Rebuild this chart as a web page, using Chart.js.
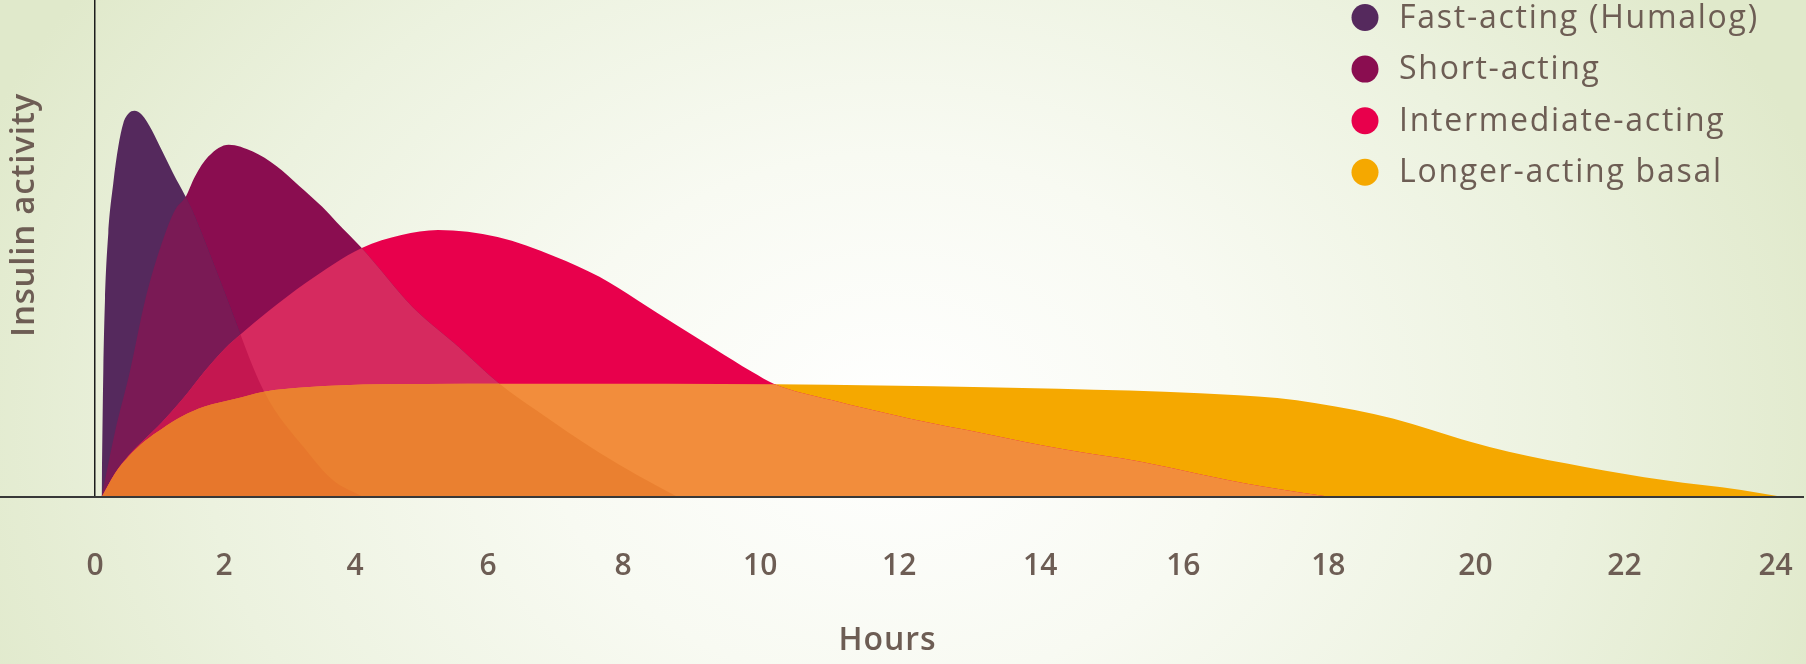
<!DOCTYPE html>
<html>
<head>
<meta charset="utf-8">
<script src="https://cdn.jsdelivr.net/npm/chart.js@4.4.1/dist/chart.umd.min.js"></script>
<style>
  html, body { margin: 0; padding: 0; width: 1806px; height: 664px; overflow: hidden; }
  body { background: radial-gradient(ellipse 980px 760px at 890px 420px, #ffffff 0%, #f8faf2 35%, #ecf2df 70%, #e0e9cb 100%); }
  #wrap { position: relative; width: 1806px; height: 664px; }
  canvas { display: block; }
</style>
</head>
<body>
<div id="wrap"><canvas id="chart" width="1806" height="664"></canvas></div>
<script>
// ---------------- data ----------------
const seriesNames = ['Fast-acting (Humalog)', 'Short-acting', 'Intermediate-acting', 'Longer-acting basal'];
const seriesColors = ['#55295d', '#8a0d50', '#e8004c', '#f5a800'];

const fastHours  = [0.1, 0.127, 0.153, 0.205, 0.283, 0.361, 0.439, 0.517, 0.611, 0.727, 0.883, 1.035, 1.214, 1.406, 1.55, 1.755, 2.012, 2.61, 3.25, 3.66, 4.12];
const fastValues = [0, 2.54, 3.96, 5.31, 6.32, 7.05, 7.52, 7.71, 7.77, 7.69, 7.38, 6.98, 6.51, 6.04, 5.64, 4.97, 4.10, 2.13, 0.95, 0.34, 0];

const shortHours  = [0.1, 0.306, 0.544, 0.778, 1.035, 1.24, 1.406, 1.55, 1.755, 2.07, 2.44, 2.80, 3.15, 3.50, 3.72, 4.1, 4.87, 5.56, 6.16, 6.71, 7.65, 8.21, 8.8];
const shortValues = [0, 1.29, 2.54, 3.96, 5.10, 5.77, 6.04, 6.45, 6.85, 7.09, 6.95, 6.66, 6.26, 5.84, 5.53, 5.01, 3.82, 3.02, 2.29, 1.75, 0.89, 0.44, 0];

const intHours  = [0.1, 0.309, 0.517, 0.778, 1.035, 1.345, 1.705, 2.012, 2.258, 2.672, 3.252, 4.1, 4.7, 5.25, 6.14, 6.99, 7.65, 8.21, 8.78, 9.33, 9.88, 10.21, 11.03, 12.14, 13.24, 14.33, 15.41, 16.23, 17.1, 18.04];
const intValues = [0, 0.48, 0.83, 1.17, 1.5, 1.95, 2.54, 2.99, 3.28, 3.73, 4.31, 5.01, 5.27, 5.37, 5.23, 4.84, 4.43, 3.96, 3.46, 2.99, 2.52, 2.27, 1.95, 1.58, 1.27, 0.96, 0.71, 0.46, 0.21, 0];

const basalHours  = [0.1, 0.309, 0.517, 0.778, 1.036, 1.345, 1.70, 2.16, 2.61, 3.25, 4.41, 7.0, 10.21, 13.24, 14.26, 16.23, 17.3, 18.36, 18.88, 19.41, 19.93, 20.45, 21.49, 22.52, 23.55, 24.1];
const basalValues = [0, 0.48, 0.81, 1.13, 1.37, 1.62, 1.82, 1.97, 2.12, 2.21, 2.27, 2.28, 2.27, 2.21, 2.18, 2.09, 1.99, 1.75, 1.58, 1.35, 1.11, 0.91, 0.60, 0.34, 0.14, 0];

const hourTicks = [0, 2, 4, 6, 8, 10, 12, 14, 16, 18, 20, 22, 24];

// colours of regions where several curves overlap (indices into the series above)
const overlapSets   = [[0, 1], [1, 2], [2, 3], [0, 1, 2], [1, 2, 3], [0, 1, 2, 3]];
const overlapColors = ['#7a1a55', '#d62a5f', '#f28d3c', '#c41750', '#ea8030', '#e7772c'];

const yTitle = 'Insulin activity';
const xTitle = 'Hours';

// ---------------- styling ----------------
const textColor = '#6d5d54';
const FONT = '"Open Sans", "Noto Sans", sans-serif';
const HOUR_WARP = 0.00392; // the printed hour axis gets gradually wider to the right

// A linear scale whose spacing widens slightly with time, like the printed axis
class WarpedScale extends Chart.LinearScale {
  static id = 'warped';
  _w(v) { return v + HOUR_WARP * v * v; }
  _uw(u) { return (-1 + Math.sqrt(1 + 4 * HOUR_WARP * u)) / (2 * HOUR_WARP); }
  getPixelForValue(value) {
    if (value === null || value === undefined || isNaN(value)) return NaN;
    const a = this._w(this.min), b = this._w(this.max);
    return this.getPixelForDecimal((this._w(value) - a) / (b - a));
  }
  getValueForPixel(pixel) {
    const a = this._w(this.min), b = this._w(this.max);
    return this._uw(a + this.getDecimalForPixel(pixel) * (b - a));
  }
}
Chart.register(WarpedScale);

const hoursList = [fastHours, shortHours, intHours, basalHours];
const valuesList = [fastValues, shortValues, intValues, basalValues];

const datasets = seriesNames.map((name, i) => ({
  label: name,
  data: hoursList[i].map((h, k) => ({ x: h, y: valuesList[i][k] })),
  backgroundColor: seriesColors[i],
  borderWidth: 0,
  pointRadius: 0,
  fill: 'origin',
  cubicInterpolationMode: 'monotone'
}));

function fitSpacing(ctx, text, target) {
  ctx.letterSpacing = '0px';
  const w = ctx.measureText(text).width;
  const s = Math.max(0, Math.min(3, (target - w) / text.length));
  ctx.letterSpacing = s.toFixed(2) + 'px';
}

const overlapPlugin = {
  id: 'overlapShading',
  afterDatasetsDraw(chart) {
    const ctx = chart.ctx;
    const area = chart.chartArea;
    const y0 = chart.scales.y.getPixelForValue(0);
    const paths = chart.data.datasets.map((d, i) => {
      const meta = chart.getDatasetMeta(i);
      const line = meta.dataset;
      const pts = meta.data;
      if (line.updateControlPoints) line.updateControlPoints(area, 'x');
      const p = new Path2D();
      line.path(p);
      p.lineTo(pts[pts.length - 1].x, y0);
      p.lineTo(pts[0].x, y0);
      p.closePath();
      return p;
    });
    overlapSets.forEach((set, k) => {
      ctx.save();
      ctx.beginPath();
      ctx.rect(area.left, area.top, area.width, area.height);
      ctx.clip();
      for (let j = 0; j < set.length - 1; j++) ctx.clip(paths[set[j]]);
      ctx.fillStyle = overlapColors[k];
      ctx.fill(paths[set[set.length - 1]]);
      ctx.restore();
    });
    // baseline across the whole picture
    ctx.save();
    ctx.strokeStyle = '#383838';
    ctx.lineWidth = 2;
    ctx.beginPath();
    ctx.moveTo(0, y0);
    ctx.lineTo(chart.width - 2, y0);
    ctx.stroke();
    ctx.restore();
  },
  afterDraw(chart) {
    const ctx = chart.ctx;
    // legend
    ctx.save();
    ctx.textBaseline = 'middle';
    ctx.textAlign = 'left';
    ctx.font = '400 32px ' + FONT;
    fitSpacing(ctx, chart.data.datasets[0].label, 360);
    chart.data.datasets.forEach((ds, i) => {
      const cy = 17.5 + i * 51.6;
      ctx.fillStyle = ds.backgroundColor;
      ctx.beginPath();
      ctx.arc(1365, cy, 13.5, 0, Math.PI * 2);
      ctx.fill();
      ctx.fillStyle = textColor;
      ctx.fillText(ds.label, 1399, cy + 1);
    });
    ctx.restore();
    // y title
    ctx.save();
    ctx.translate(25, 215);
    ctx.rotate(-Math.PI / 2);
    ctx.textAlign = 'center';
    ctx.textBaseline = 'middle';
    ctx.font = '600 33px ' + FONT;
    fitSpacing(ctx, yTitle, 244);
    ctx.fillStyle = textColor;
    ctx.fillText(yTitle, 0, 0);
    ctx.restore();
    // x title
    ctx.save();
    ctx.textAlign = 'center';
    ctx.textBaseline = 'middle';
    ctx.font = '600 32px ' + FONT;
    fitSpacing(ctx, xTitle, 98);
    ctx.fillStyle = textColor;
    ctx.fillText(xTitle, 887.5, 641);
    ctx.restore();
  }
};

new Chart(document.getElementById('chart'), {
  type: 'line',
  data: { datasets },
  options: {
    responsive: false,
    animation: false,
    devicePixelRatio: 1,
    layout: { padding: { left: 0, right: 0, top: 0, bottom: 29 } },
    plugins: { legend: { display: false }, tooltip: { enabled: false } },
    scales: {
      x: {
        type: 'warped',
        min: -1.496,
        max: 24.4,
        afterBuildTicks: (axis) => { axis.ticks = hourTicks.map(v => ({ value: v })); },
        afterFit: (axis) => { axis.paddingLeft = 0; axis.paddingRight = 0; },
        grid: {
          drawTicks: false,
          tickLength: 0,
          lineWidth: 1.5,
          color: (c) => (c.tick && c.tick.value === 0 ? '#1c1c1c' : 'rgba(0,0,0,0)')
        },
        border: { display: false },
        ticks: {
          padding: 51,
          autoSkip: false,
          maxRotation: 0,
          color: textColor,
          font: { family: FONT, size: 30, weight: '600' },
          callback: (v) => String(v)
        }
      },
      y: { display: false, min: 0, max: 10 }
    }
  },
  plugins: [overlapPlugin]
});
</script>
</body>
</html>
